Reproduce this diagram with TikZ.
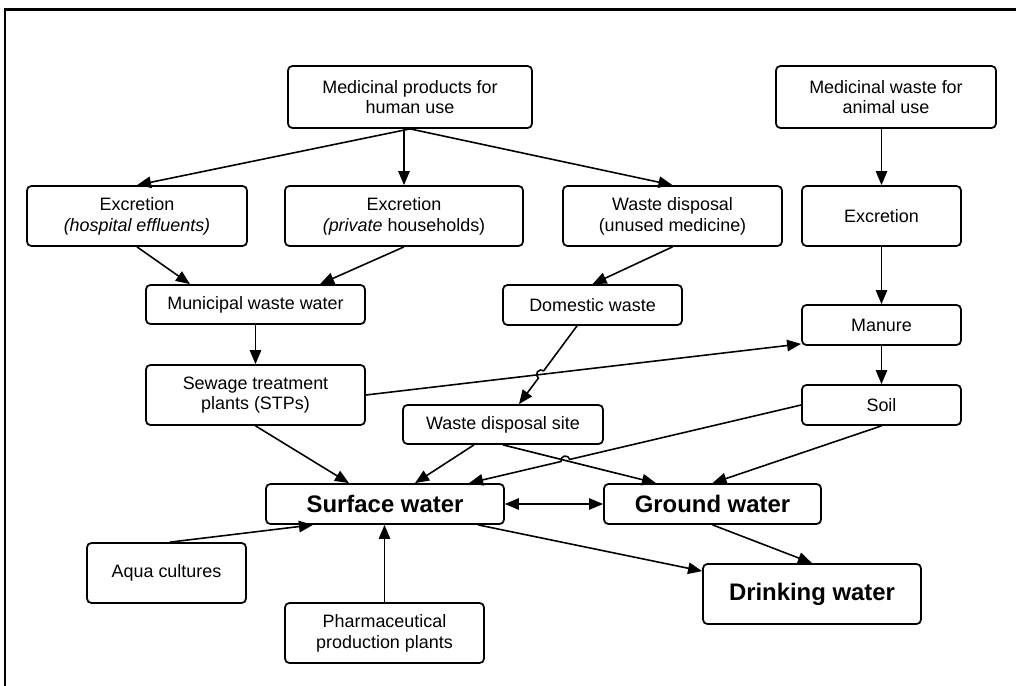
\documentclass[tikz,border=0pt]{standalone}
\usepackage{fontspec}
\setmainfont{Liberation Sans}
\usetikzlibrary{arrows.meta,calc,intersections}

\begin{document}
\begin{tikzpicture}[
    >={Triangle[length=8pt,width=6.5pt]},
    box/.style={rectangle,draw,rounded corners=2.5pt,line width=1pt,align=center,inner sep=0pt,font=\fontsize{10.2}{11.8}\selectfont},
    big/.style={box,font=\fontsize{13.6}{16}\selectfont\bfseries},
    arr/.style={->,line width=0.9pt}
  ]
            \useasboundingbox (0,0) rectangle (20.32,-13.72);
            \draw[line width=1.2pt] (0.1,-13.72) -- (0.1,-0.19) -- (20.32,-0.19);
            % Human use
            \node[box,minimum width=4.88cm,minimum height=1.24cm] (node1) at (8.2,-1.94) {Medicinal products for\\human use};
            \node[box,minimum width=4.4cm,minimum height=1.2cm] (node3) at (2.74,-4.32) {Excretion\\\textit{(hospital effluents)}};
            \node[box,minimum width=4.76cm,minimum height=1.2cm] (node4) at (8.08,-4.32) {Excretion\\\textit{(private} households)};
            \node[box,minimum width=4.38cm,minimum height=1.2cm] (node5) at (13.45,-4.32) {Waste disposal\\(unused medicine)};
            \node[box,minimum width=4.38cm,minimum height=0.78cm] (node7) at (5.11,-6.09) {Municipal waste water};
            \node[box,minimum width=3.58cm,minimum height=0.8cm] (node8) at (11.85,-6.1) {Domestic waste};
            \node[box,minimum width=4.38cm,minimum height=1.2cm] (node10) at (5.11,-7.9) {Sewage treatment\\plants (STPs)};
            \node[box,minimum width=4cm,minimum height=0.78cm] (node11) at (10.06,-8.49) {Waste disposal site};
            % Animal use
            \node[box,minimum width=4.4cm,minimum height=1.24cm] (node2) at (17.72,-1.94) {Medicinal waste for\\animal use};
            \node[box,minimum width=3.18cm,minimum height=1.2cm] (node6) at (17.63,-4.32) {Excretion};
            \node[box,minimum width=3.18cm,minimum height=0.8cm] (node9) at (17.63,-6.5) {Manure};
            \node[box,minimum width=3.18cm,minimum height=0.8cm] (node12) at (17.63,-8.1) {Soil};
            % Water
            \node[big,minimum width=4.76cm,minimum height=0.8cm] (node13) at (7.7,-10.08) {Surface water};
            \node[big,minimum width=4.34cm,minimum height=0.8cm] (node14) at (14.25,-10.08) {Ground water};
            \node[big,minimum width=4.36cm,minimum height=1.2cm] (node17) at (16.24,-11.88) {Drinking water};
            \node[box,minimum width=3.18cm,minimum height=1.2cm] (node15) at (3.33,-11.46) {Aqua cultures};
            \node[box,minimum width=3.98cm,minimum height=1.2cm] (node16) at (7.69,-12.66) {Pharmaceutical\\production plants};
            % Arrows
            \draw[arr] (node1.south) -- (node3.north);
            \draw[arr] (node1.south -| node4.north) -- (node4.north);
            \draw[arr] (node1.south) -- (node5.north);
            \draw[arr] (node2.south -| node6.north) -- (node6.north);
            \draw[arr] (node3.south) -- ([xshift=-1.31cm]node7.north);
            \draw[arr] (node4.south) -- ([xshift=1.29cm]node7.north);
            \draw[arr] (node5.south) -- (node8.north);
            \draw[arr] (node6.south) -- (node9.north);
            \draw[arr] (node7.south) -- (node10.north);
            \draw[arr] (node9.south) -- (node12.north);
            \draw[arr,name path=stpman] (node10.east) -- ([yshift=0.04cm]node9.south west);
            % Domestic waste -> disposal site, hop over
            \coordinate (c1) at ([xshift=-0.31cm]node8.south);
            \coordinate (c2) at ([xshift=0.32cm]node11.north);
            \path[name path=dwwds] (c1) -- (c2);
            \path[name intersections={of=stpman and dwwds,by=hop1}];
            \draw[arr] (c1) -- ($(hop1)!0.09cm!(c1)$) arc[start angle=54.05,delta angle=180,radius=0.09cm] -- (c2);
            \draw[arr] (node10.south) -- ([xshift=-0.72cm]node13.north);
            \draw[arr] ([xshift=-0.58cm]node11.south) -- ([xshift=0.6cm]node13.north);
            \draw[arr,name path=wdsgw] (node11.south) -- ([xshift=-1.13cm]node14.north);
            % Soil -> surface water, hop over
            \coordinate (c3) at (node12.west);
            \coordinate (c4) at ([xshift=1.68cm]node13.north);
            \path[name path=soilsw] (c3) -- (c4);
            \path[name intersections={of=wdsgw and soilsw,by=hop2}];
            \draw[arr] (c3) -- ($(hop2)!0.09cm!(c3)$) arc[start angle=13.35,delta angle=180,radius=0.09cm] -- (c4);
            \draw[arr] (node12.south) -- (node14.north);
            \draw[arr,<->] (node13.east) -- (node14.west);
            \draw[arr] ([xshift=0.07cm]node15.north) -- ([xshift=-1.44cm]node13.south);
            \draw[arr] (node16.north) -- (node16.north |- node13.south);
            \draw[arr] ([xshift=1.86cm]node13.south) -- ([yshift=-0.16cm]node17.north west);
            \draw[arr] (node14.south) -- (node17.north);
\end{tikzpicture}
\end{document}
